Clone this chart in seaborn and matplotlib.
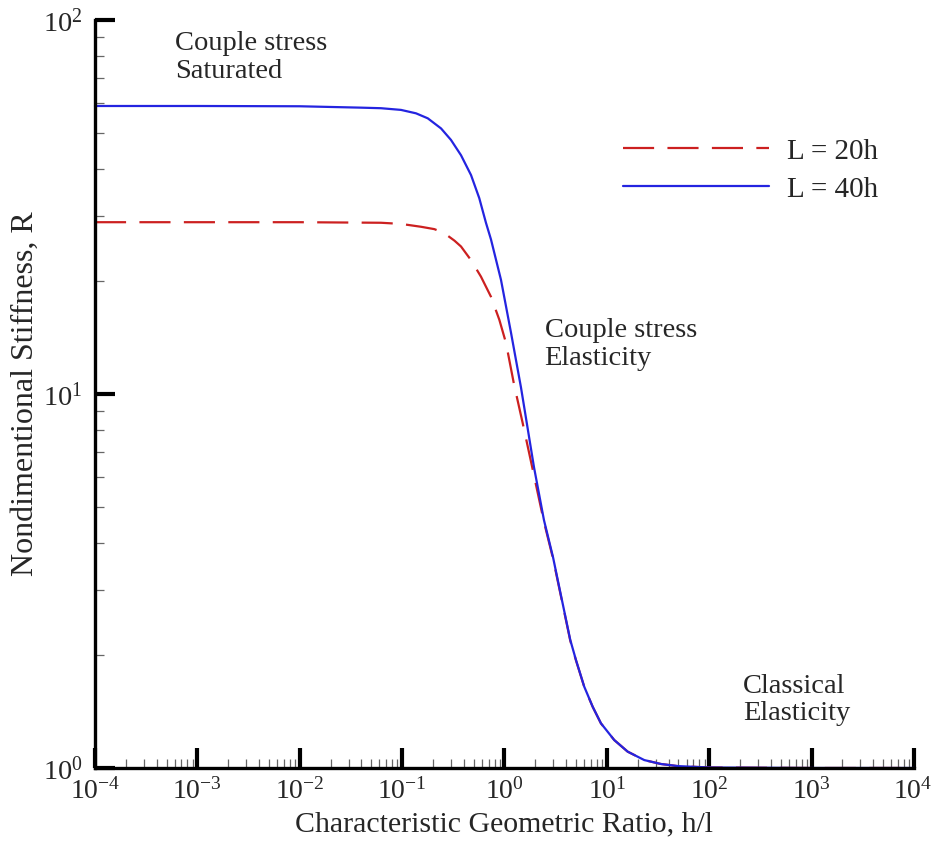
import matplotlib
matplotlib.use("Agg")
import matplotlib.pyplot as plt
import seaborn as sns
import numpy as np
from matplotlib.ticker import LogLocator, FuncFormatter, NullFormatter

# ---- data ----
series_labels = ["L = 20h", "L = 40h"]

x_L20 = [1e-4, 1e-3, 1e-2, 0.0622, 0.0975, 0.153, 0.206, 0.245, 0.279, 0.325,
         0.376, 0.471, 0.589, 0.738, 0.890, 1.034, 1.24, 1.50, 1.81, 2.43,
         2.98, 3.33, 4.39, 4.99, 6.01, 7.27, 8.75, 11.8, 15.96, 23.2, 33.7,
         48.9, 100, 1e3, 1e4]
R_L20 = [28.8, 28.8, 28.8, 28.7, 28.5, 28.0, 27.6, 27.1, 26.5, 25.7,
         24.8, 22.8, 20.6, 18.2, 15.8, 13.7, 10.6, 8.4, 6.62, 4.55,
         3.63, 3.14, 2.19, 1.94, 1.648, 1.457, 1.316, 1.188, 1.106, 1.050,
         1.025, 1.012, 1.003, 1.0, 1.0]

x_L40 = [1e-4, 1e-3, 1e-2, 0.0397, 0.0622, 0.0975, 0.1367, 0.178, 0.240, 0.300,
         0.376, 0.471, 0.567, 0.659, 0.738, 0.924, 1.157, 1.45, 1.94, 2.43,
         2.98, 3.33, 4.39, 4.99, 6.01, 7.27, 8.75, 11.8, 15.96, 23.2, 33.7,
         48.9, 100, 1e3, 1e4]
R_L40 = [58.9, 58.9, 58.8, 58.3, 58.1, 57.5, 56.3, 54.6, 51.3, 47.8,
         43.5, 38.5, 33.4, 28.7, 25.9, 20.2, 14.6, 10.4, 6.38, 4.60,
         3.66, 3.16, 2.20, 1.945, 1.650, 1.458, 1.317, 1.188, 1.106, 1.050,
         1.025, 1.012, 1.003, 1.0, 1.0]

x_ticks = [1e-4, 1e-3, 1e-2, 1e-1, 1e0, 1e1, 1e2, 1e3, 1e4]
y_ticks = [1e0, 1e1, 1e2]

annotations = [("Couple stress\nSaturated", 0.0977, 0.985),
               ("Couple stress\nElasticity", 0.549, 0.601),
               ("Classical\nElasticity", 0.791, 0.126)]

# ---- style ----
sns.set_style("white")
plt.rcParams["font.family"] = ["Liberation Serif", "DejaVu Serif"]
plt.rcParams["mathtext.fontset"] = "custom"
plt.rcParams["mathtext.rm"] = "Liberation Serif"
plt.rcParams["mathtext.it"] = "Liberation Serif:italic"
plt.rcParams["mathtext.default"] = "rm"

FS = 20.5
fig = plt.figure(figsize=(9.32, 8.41), dpi=100)
ax = fig.add_axes([0.1019, 0.0868, 0.8788, 0.8894])

sns.lineplot(x=x_L20, y=R_L20, ax=ax, color="#cc2020", lw=1.6,
             label=series_labels[0], sort=False, estimator=None)
sns.lineplot(x=x_L40, y=R_L40, ax=ax, color="#2424e0", lw=1.6,
             label=series_labels[1], sort=False, estimator=None)
lines = ax.get_lines()
lines[0].set_dashes((14, 6))

ax.set_xscale("log")
ax.set_yscale("log")
ax.set_xlim(1e-4, 1e4)
ax.set_ylim(1, 100)

ax.set_xticks(x_ticks)
ax.set_yticks(y_ticks)
fmt = FuncFormatter(lambda v, p: r"$10^{%d}$" % int(round(np.log10(v))))
ax.xaxis.set_major_formatter(fmt)
ax.yaxis.set_major_formatter(fmt)
ax.xaxis.set_minor_locator(LogLocator(base=10, subs=np.arange(2, 10), numticks=100))
ax.yaxis.set_minor_locator(LogLocator(base=10, subs=np.arange(2, 10), numticks=100))
ax.xaxis.set_minor_formatter(NullFormatter())
ax.yaxis.set_minor_formatter(NullFormatter())

ax.tick_params(which="both", bottom=True, left=True, top=False, right=False)
ax.tick_params(which="major", direction="in", length=14.5, width=3,
               labelsize=FS, color="black", pad=7)
ax.tick_params(which="minor", direction="in", length=6.5, width=0.9,
               color="#666666")
ax.tick_params(axis="x", which="major", labelsize=20)
ax.tick_params(axis="y", which="major", pad=9)

for s in ["top", "right"]:
    ax.spines[s].set_visible(False)
for s in ["left", "bottom"]:
    ax.spines[s].set_linewidth(2.4)
    ax.spines[s].set_color("black")

ax.set_xlabel("Characteristic Geometric Ratio, h/l", fontsize=21.5, labelpad=5)
ax.set_ylabel("Nondimentional Stiffness, R", fontsize=23, labelpad=2)

for txt, xa, ya in annotations:
    ax.text(xa, ya, txt, transform=ax.transAxes, fontsize=FS, va="top",
            ha="left", linespacing=1.12)

ax.legend(loc="upper left", bbox_to_anchor=(0.645, 0.842), frameon=False,
          fontsize=21, handlelength=5.0, handletextpad=0.6, labelspacing=0.4,
          borderpad=0, borderaxespad=0)

for ln in lines:
    ln.set_clip_on(False)

# keep the last x tick label inside the figure
fig.canvas.draw()
last = ax.get_xticklabels()[-1]
last.set_horizontalalignment("right")
last.set_x(last.get_position()[0])
from matplotlib.transforms import ScaledTranslation
last.set_transform(last.get_transform() + ScaledTranslation(18 / 100, 0, fig.dpi_scale_trans))

fig.savefig("out.png", dpi=100)
